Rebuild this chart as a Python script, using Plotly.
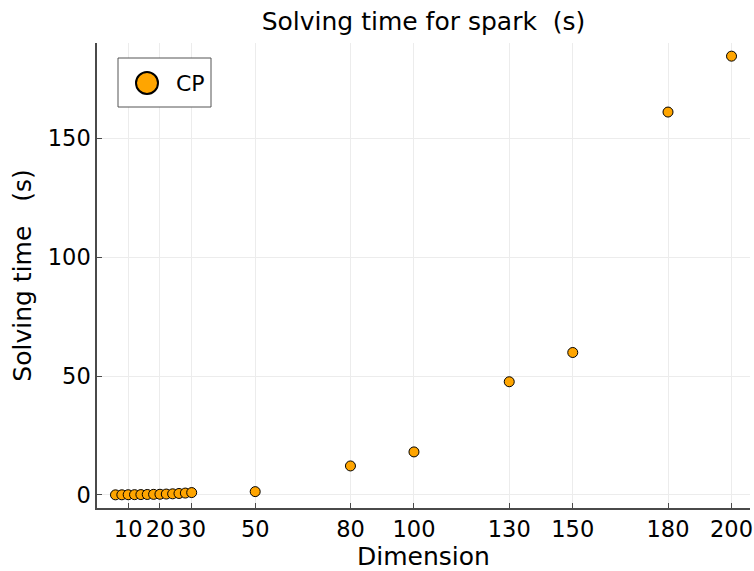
import plotly.graph_objects as go

# ---- data ----
dimension = [6, 8, 10, 12, 14, 16, 18, 20, 22, 24, 26, 28, 30, 50, 80, 100, 130, 150, 180, 200]
solve_time = [0.05, 0.07, 0.1, 0.13, 0.16, 0.2, 0.25, 0.3, 0.38, 0.48, 0.62, 0.8, 1.0,
              1.4, 12.2, 18.1, 47.6, 59.9, 161.0, 184.5]
x_ticks = [10, 20, 30, 50, 80, 100, 130, 150, 180, 200]
y_ticks = [0, 50, 100, 150]
series_name = "CP"

FONT = "DejaVu Sans"
ORANGE = "#FFA500"
AXIS = "#4a4a4a"
GRID = "#ececec"

def pad(vals, frac=0.03):
    lo, hi = min(vals), max(vals)
    d = (hi - lo) * frac
    return [lo - d, hi + d]

fig = go.Figure()
fig.add_trace(go.Scatter(
    x=dimension, y=solve_time, mode="markers", name=series_name,
    marker=dict(size=10, color=ORANGE, line=dict(color="#000000", width=1)),
    showlegend=False,
))

L, R, T, B = 97, 4, 43, 63
W, H = 754, 571
pw, ph = W - L - R, H - T - B

def px_x(p):
    return (p - L) / pw

def px_y(p):
    return (H - B - p) / ph

# legend drawn manually (box, marker, label)
fig.add_shape(type="rect", xref="paper", yref="paper",
              x0=px_x(118), x1=px_x(211), y0=px_y(107), y1=px_y(58),
              line=dict(color="#555555", width=1), fillcolor="white", layer="above")
fig.add_shape(type="circle", xref="paper", yref="paper",
              xsizemode="pixel", ysizemode="pixel",
              xanchor=px_x(147), yanchor=px_y(83),
              x0=-11, x1=11, y0=-11, y1=11,
              line=dict(color="#000000", width=2), fillcolor=ORANGE, layer="above")
fig.add_annotation(text=series_name, xref="paper", yref="paper",
                   x=px_x(174), y=px_y(83), xanchor="left", yanchor="middle",
                   showarrow=False, font=dict(family=FONT, size=22, color="black"))

fig.update_layout(
    width=W, height=H,
    margin=dict(l=L, r=R, t=T, b=B, autoexpand=False),
    paper_bgcolor="white", plot_bgcolor="white",
    font=dict(family=FONT, color="black"),
    title=dict(text="Solving time for spark  (s)", x=(L + pw / 2) / W, xanchor="center",
               y=1 - 21 / H, yanchor="middle", font=dict(family=FONT, size=25)),
)
fig.update_xaxes(
    range=pad(dimension), tickvals=x_ticks, ticktext=[str(v) for v in x_ticks],
    showgrid=True, gridcolor=GRID, gridwidth=1, zeroline=False,
    showline=True, linecolor=AXIS, linewidth=1.5,
    ticks="inside", ticklen=5, tickcolor=AXIS, tickwidth=1,
    tickfont=dict(family=FONT, size=22.5),
    title=dict(text="Dimension", font=dict(family=FONT, size=25), standoff=4),
    automargin=False,
)
fig.update_yaxes(
    range=pad(solve_time), tickvals=y_ticks, ticktext=[str(v) for v in y_ticks],
    showgrid=True, gridcolor=GRID, gridwidth=1, zeroline=False,
    showline=True, linecolor=AXIS, linewidth=1.5,
    ticks="inside", ticklen=5, tickcolor=AXIS, tickwidth=1,
    tickfont=dict(family=FONT, size=22.5),
    title=dict(text="Solving time   (s)", font=dict(family=FONT, size=25), standoff=9),
    automargin=False,
)

fig.write_html("out.html")
